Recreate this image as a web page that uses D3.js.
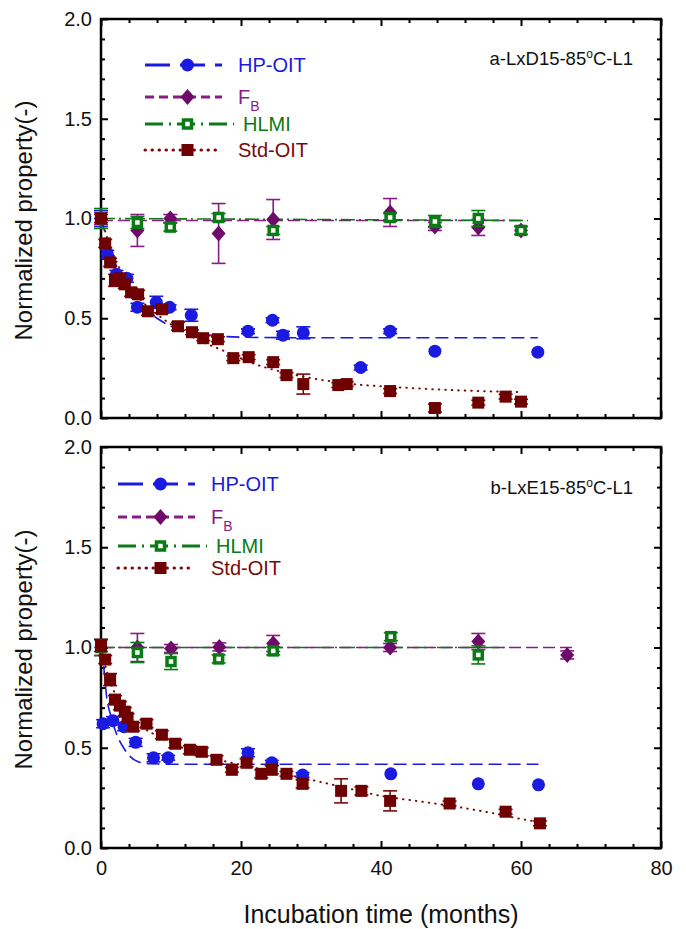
<!DOCTYPE html>
<html>
<head>
<meta charset="utf-8">
<script src="https://cdn.jsdelivr.net/npm/d3@7"></script>
<style>
body { margin: 0; background: #fff; }
svg { font-family: Arial, "Liberation Sans", sans-serif; }
</style>
</head>
<body>
<svg id="chart" width="686" height="929"></svg>
<script>
// points are [months, normalized value, error]
const hpA = [[0,1.0,0.04],[0.9,0.82,0.02],[2.2,0.72,0.02],[3.7,0.70,0.02],[5.2,0.555,0.02],[7.9,0.58,0.03],[9.8,0.555,0.01],[12.9,0.515,0.03],[21,0.435,0.01],[24.5,0.49,0.01],[26,0.415,0.02],[28.9,0.427,0.03],[37.1,0.253,0.01],[41.3,0.435,0.01],[47.7,0.335,0],[62.4,0.33,0]];
const fbA = [[0,1.0,0.03],[5.2,0.94,0.08],[9.9,1.0,0.02],[16.8,0.925,0.15],[24.6,0.995,0.1],[41.3,1.03,0.07],[47.7,0.96,0.02],[53.9,0.955,0.04],[60,0.94,0.02]];
const hlA = [[0,1.0,0.05],[5.2,0.98,0.03],[9.9,0.957,0.02],[16.8,1.005,0.02],[24.6,0.94,0.02],[41.3,1.005,0.02],[47.7,0.985,0.03],[53.9,1.0,0.04],[60,0.94,0.02]];
const stdA = [[0,1.0,0.02],[0.6,0.875,0.02],[1.3,0.78,0.02],[2,0.69,0.03],[2.7,0.70,0.02],[3.4,0.67,0.02],[4.3,0.63,0.02],[5.3,0.62,0.02],[6.7,0.535,0.02],[8.7,0.545,0.02],[11,0.46,0.02],[13,0.43,0.01],[14.6,0.40,0.01],[16.7,0.395,0.01],[18.9,0.30,0.01],[21.1,0.305,0.01],[24.6,0.28,0.01],[26.5,0.215,0.01],[28.9,0.17,0.05],[33.9,0.165,0.01],[35.1,0.17,0.01],[41.3,0.135,0.01],[47.7,0.05,0.02],[53.9,0.077,0.01],[57.8,0.107,0.01],[60,0.082,0.01]];

// fitted curves, [months, value]
const hpFitA = [[0,1.0],[1,0.88],[2,0.78],[3,0.70],[4,0.64],[6,0.555],[8,0.50],[10,0.46],[12,0.435],[15,0.418],[20,0.405],[30,0.402],[62.4,0.402]];
const fbFitA = [[0,0.99],[60,0.99]];
const hlFitA = [[0,1.0],[61,0.99]];
const stdFitA = [[0,1.0],[2,0.80],[4,0.67],[6,0.58],[8,0.52],[10,0.47],[14,0.39],[18,0.33],[22,0.27],[26,0.23],[30,0.20],[36,0.17],[42,0.155],[50,0.14],[60,0.13]];

const hpB = [[0.3,0.62,0.02],[1.7,0.635,0.02],[3.3,0.605,0.02],[4.95,0.527,0.02],[7.5,0.45,0.02],[9.6,0.45,0.01],[21,0.475,0.02],[24.4,0.425,0.01],[28.8,0.364,0.01],[41.4,0.37,0],[53.9,0.32,0],[62.5,0.315,0]];
const fbB = [[0,1.0,0.04],[5.2,1.0,0.07],[10,0.995,0.02],[16.9,1.003,0.02],[24.6,1.02,0.04],[41.3,1.0,0.02],[53.9,1.03,0.04],[66.6,0.963,0.02]];
const hlB = [[0,1.0,0.04],[5.2,0.975,0.05],[10,0.93,0.04],[16.8,0.943,0.02],[24.6,0.983,0.02],[41.4,1.054,0.02],[53.9,0.963,0.045]];
const stdB = [[0,1.01,0.03],[0.6,0.94,0.02],[1.3,0.84,0.03],[2,0.74,0.02],[2.7,0.71,0.02],[3.4,0.68,0.02],[3.8,0.65,0.02],[4.6,0.605,0.02],[6.5,0.62,0.02],[8.7,0.565,0.02],[10.6,0.52,0.02],[12.7,0.49,0.02],[14.4,0.48,0.02],[16.5,0.44,0.02],[18.7,0.39,0.01],[20.8,0.425,0.02],[22.9,0.37,0.02],[24.4,0.39,0.02],[26.5,0.37,0.01],[28.8,0.32,0.02],[34.3,0.285,0.06],[37.2,0.285,0.02],[41.3,0.235,0.05],[49.8,0.222,0.01],[57.8,0.181,0.01],[62.7,0.123,0.01]];

const hpFitB = [[0,1.0],[0.4,0.9],[0.8,0.755],[1.4,0.66],[2,0.59],[3.4,0.49],[5.3,0.43],[7,0.42],[10,0.418],[62.5,0.418]];
const fbFitB = [[0,1.0],[67.4,1.0]];
const hlFitB = [[0,1.0],[57.7,1.0]];
const stdFitB = [[0,1.0],[1,0.86],[2,0.77],[4,0.66],[6,0.60],[8,0.56],[10,0.525],[14,0.47],[18,0.43],[22,0.40],[26,0.37],[30,0.34],[35,0.30],[40,0.26],[45,0.235],[50,0.21],[55,0.18],[60,0.145],[62.7,0.128]];

const xMajor = [0, 20, 40, 60, 80];
const yMajor = [0, 0.5, 1.0, 1.5, 2.0];
const seriesNames = ["HP-OIT", "FB", "HLMI", "Std-OIT"];

const styles = {
    "HP-OIT": {color: "#1a1ae0", fill: "#1a1ae0", dash: "13,6", marker: "circle"},
    "FB": {color: "#8b1a86", fill: "#6e0a6a", dash: "12,5", marker: "diamond"},
    "HLMI": {color: "#0a7a14", fill: "#0a7a14", dash: "14,4,2,4", marker: "osquare"},
    "Std-OIT": {color: "#7a0a0a", fill: "#6e0000", dash: "2,5", marker: "square"}
};

const svg = d3.select("#chart");
const left = 101, right = 661;

function drawMarker(g, type, st) {
    if (type === "circle") {
        g.append("circle").attr("r", 6.5).attr("fill", st.fill);
    } else if (type === "diamond") {
        g.append("path").attr("d", "M0,-8L7,0L0,8L-7,0Z").attr("fill", st.fill);
    } else if (type === "square") {
        g.append("rect").attr("x", -6).attr("y", -6).attr("width", 12).attr("height", 12).attr("fill", st.fill);
    } else {
        g.append("rect").attr("x", -4).attr("y", -4).attr("width", 8).attr("height", 8)
            .attr("fill", "#fff").attr("stroke", st.fill).attr("stroke-width", 3.5);
    }
}

function drawPanel(cfg) {
    const x = d3.scaleLinear().domain([0, 80]).range([left, right]);
    const y = d3.scaleLinear().domain([0, 2]).range([cfg.bottom, cfg.top]);
    const g = svg.append("g");

    // ticks (inward) on all four sides
    const minorX = d3.range(0, 81, 4).filter(v => v % 20 !== 0);
    const minorY = d3.range(0, 21, 1).map(v => v / 10).filter(v => Math.round(v * 10) % 5 !== 0);

    g.append("g").attr("transform", `translate(0,${cfg.bottom})`)
        .call(d3.axisBottom(x).tickValues(xMajor).tickSize(-7).tickPadding(13).tickFormat(cfg.xLabels ? d3.format("d") : ""));
    g.append("g").attr("transform", `translate(0,${cfg.bottom})`)
        .call(d3.axisBottom(x).tickValues(minorX).tickSize(-4).tickFormat(""));
    g.append("g").attr("transform", `translate(0,${cfg.top})`)
        .call(d3.axisTop(x).tickValues(xMajor).tickSize(-7).tickFormat(""));
    g.append("g").attr("transform", `translate(0,${cfg.top})`)
        .call(d3.axisTop(x).tickValues(minorX).tickSize(-4).tickFormat(""));
    g.append("g").attr("transform", `translate(${left},0)`)
        .call(d3.axisLeft(y).tickValues(yMajor).tickSize(-7).tickPadding(9).tickFormat(d3.format(".1f")));
    g.append("g").attr("transform", `translate(${left},0)`)
        .call(d3.axisLeft(y).tickValues(minorY).tickSize(-4).tickFormat(""));
    g.append("g").attr("transform", `translate(${right},0)`)
        .call(d3.axisRight(y).tickValues(yMajor).tickSize(-7).tickFormat(""));
    g.append("g").attr("transform", `translate(${right},0)`)
        .call(d3.axisRight(y).tickValues(minorY).tickSize(-4).tickFormat(""));
    g.selectAll(".domain").remove();
    g.selectAll(".tick line").attr("stroke", "#000").attr("stroke-width", 2);
    g.selectAll(".tick text").attr("font-size", 20).attr("fill", "#111").attr("font-family", "Arial, 'Liberation Sans', sans-serif");

    g.append("rect").attr("x", left).attr("y", cfg.top)
        .attr("width", right - left).attr("height", cfg.bottom - cfg.top)
        .attr("fill", "none").attr("stroke", "#000").attr("stroke-width", 2.5);

    const line = d3.line().x(d => x(d[0])).y(d => y(d[1])).curve(d3.curveMonotoneX);

    // fitted curves
    seriesNames.forEach((name, i) => {
        const st = styles[name];
        g.append("path").datum(cfg.fits[i])
            .attr("d", line)
            .attr("fill", "none")
            .attr("stroke", st.color)
            .attr("stroke-width", name === "Std-OIT" ? 2 : 1.6)
            .attr("stroke-linecap", name === "Std-OIT" ? "round" : "butt")
            .attr("stroke-dasharray", name === "Std-OIT" ? "0.5,6" : st.dash);
    });

    // points with error bars
    seriesNames.forEach((name, i) => {
        const st = styles[name];
        const pts = g.append("g").selectAll("g").data(cfg.points[i]).join("g")
            .attr("transform", d => `translate(${x(d[0])},${y(d[1])})`);
        pts.each(function (d) {
            const p = d3.select(this);
            const e = Math.max(d[2], 0.012);
            if (d[2] > 0) {
                const up = y(d[1] + e) - y(d[1]), dn = y(d[1] - e) - y(d[1]);
                p.append("line").attr("x1", 0).attr("x2", 0).attr("y1", up).attr("y2", dn)
                    .attr("stroke", st.color).attr("stroke-width", 1.6);
                [up, dn].forEach(v => p.append("line").attr("x1", -7).attr("x2", 7).attr("y1", v).attr("y2", v)
                    .attr("stroke", st.color).attr("stroke-width", 1.6));
            }
            drawMarker(p, st.marker, st);
        });
    });

    // legend
    const lg = cfg.legend;
    seriesNames.forEach((name, i) => {
        const st = styles[name];
        const ly = lg.ys[i];
        const l = g.append("g");
        l.append("line").attr("x1", lg.x0).attr("x2", name === "HLMI" ? lg.x1 + 12 : lg.x1)
            .attr("y1", ly).attr("y2", ly)
            .attr("stroke", st.color).attr("stroke-width", 3)
            .attr("stroke-linecap", name === "Std-OIT" ? "round" : "butt")
            .attr("stroke-dasharray", name === "Std-OIT" ? "0.5,6.5" : (name === "HP-OIT" ? "25,10" : (name === "FB" ? "9,5" : "18,6,2,6")));
        drawMarker(l.append("g").attr("transform", `translate(${(lg.x0 + lg.x1) / 2 + 4},${ly})`), st.marker, st);
        const t = l.append("text").attr("x", name === "HLMI" ? lg.tx + 5 : lg.tx).attr("y", ly + 7)
            .attr("font-size", 20).attr("fill", st.color);
        if (name === "FB") {
            t.append("tspan").text("F");
            t.append("tspan").attr("dy", 7).attr("font-size", 14).text("B");
        } else {
            t.text(name);
        }
    });

    // panel label
    const pl = g.append("text").attr("x", 633).attr("y", cfg.labelY).attr("text-anchor", "end")
        .attr("font-size", 18.5).attr("fill", "#111");
    pl.append("tspan").text(cfg.label[0]);
    pl.append("tspan").attr("dy", -7).attr("font-size", 12).text("o");
    pl.append("tspan").attr("dy", 7).text(cfg.label[1]);

    // y title
    g.append("text")
        .attr("transform", `translate(32,${(cfg.top + cfg.bottom) / 2 + 2}) rotate(-90)`)
        .attr("text-anchor", "middle").attr("font-size", 24).attr("fill", "#111")
        .text("Normalized property(-)");
}

drawPanel({
    top: 19, bottom: 418, xLabels: false,
    points: [hpA, fbA, hlA, stdA], fits: [hpFitA, fbFitA, hlFitA, stdFitA],
    legend: {x0: 145, x1: 222, tx: 238, ys: [65, 97, 124, 150]},
    label: ["a-LxD15-85", "C-L1"], labelY: 65
});
drawPanel({
    top: 447, bottom: 848, xLabels: true,
    points: [hpB, fbB, hlB, stdB], fits: [hpFitB, fbFitB, hlFitB, stdFitB],
    legend: {x0: 118, x1: 195, tx: 211, ys: [484, 517, 546, 568]},
    label: ["b-LxE15-85", "C-L1"], labelY: 494
});

svg.append("text").attr("x", 381).attr("y", 923).attr("text-anchor", "middle")
    .attr("font-size", 25).attr("fill", "#111").text("Incubation time (months)");
</script>
</body>
</html>
